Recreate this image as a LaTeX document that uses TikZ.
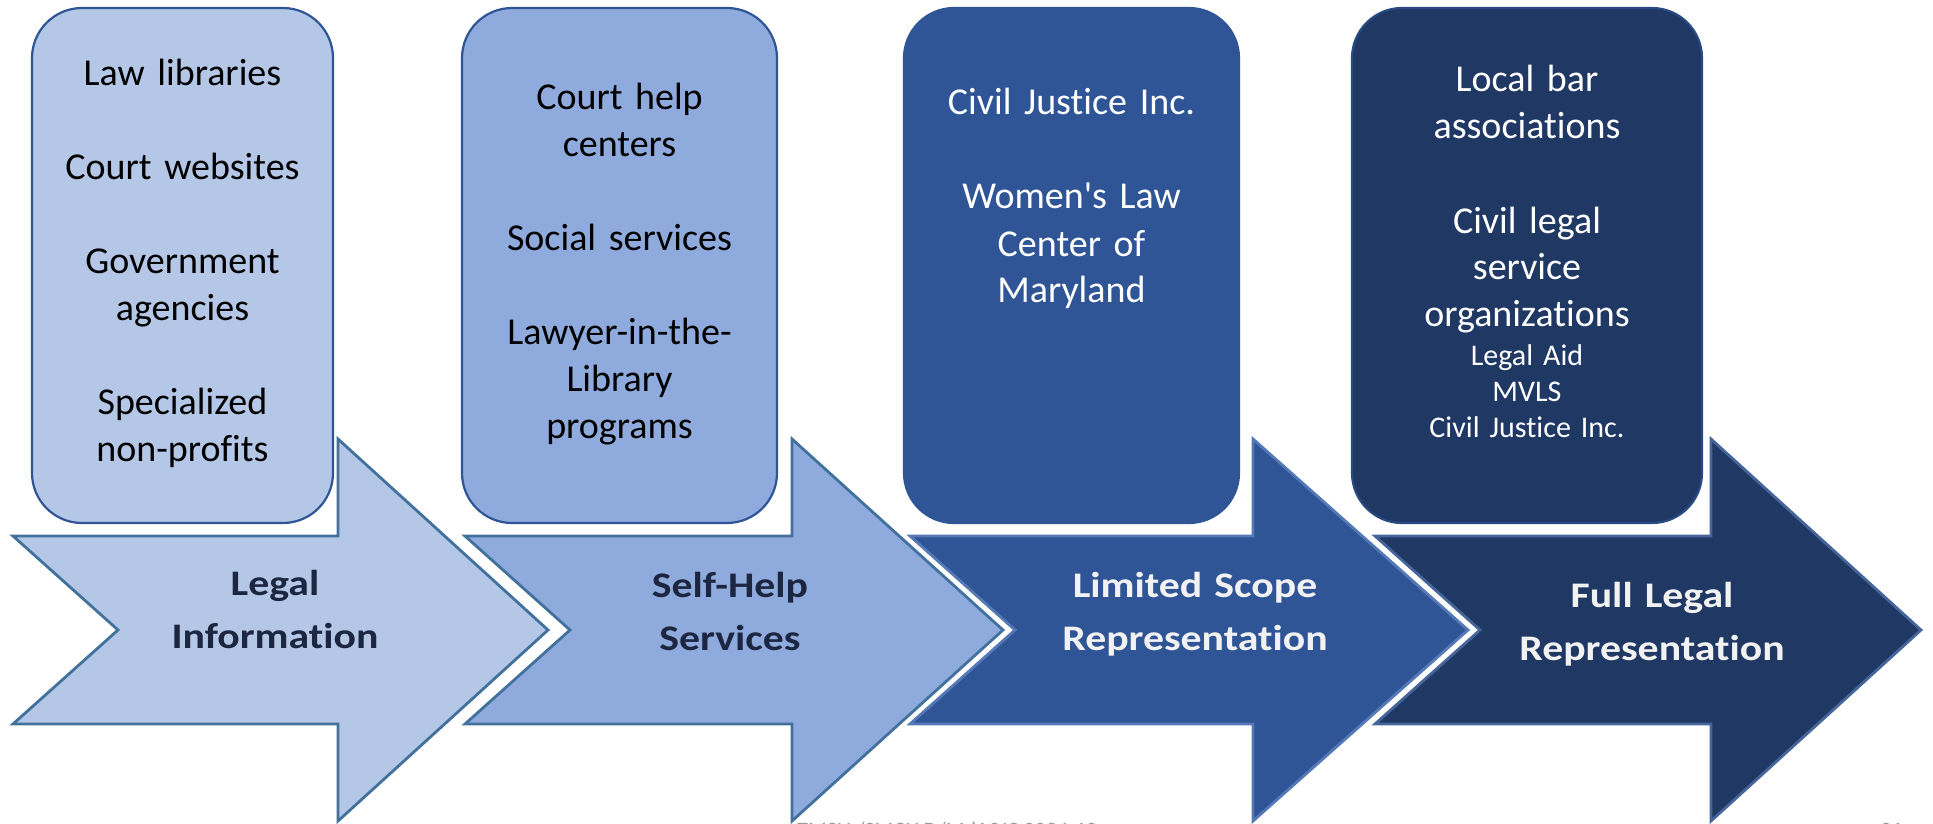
\documentclass[tikz,border=0pt]{standalone}
\usepackage{fontspec}
\setmainfont{Carlito}[Ligatures={TeXOff,NoCommon}]
\newfontfamily\arrowfont{Carlito}[Ligatures={TeXOff,NoCommon}, FakeStretch=1.16]
\definecolor{cA}{HTML}{B4C7E7}
\definecolor{cB}{HTML}{8FAADC}
\definecolor{cC}{HTML}{2F5597}
\definecolor{cD}{HTML}{203864}
\definecolor{boxedge}{HTML}{2F5597}
\definecolor{arredge}{HTML}{41719C}
\definecolor{arredgeC}{HTML}{5479B6}
\definecolor{arredgeD}{HTML}{46659B}
\definecolor{darktext}{HTML}{1C2640}
\definecolor{foot}{HTML}{9A9A9A}
\begin{document}
\begin{tikzpicture}[x=0.5pt,y=-0.5pt,
  panel/.style={rounded corners=25pt, inner sep=0pt, line width=1.1pt},
  paneltext/.style={anchor=base, align=center, text width=170pt, inner sep=0pt,
    font=\fontsize{19}{23.5}\selectfont},
  smalltext/.style={anchor=base, align=center, text width=170pt, inner sep=0pt,
    font=\fontsize{15}{18}\selectfont, text=white},
  arrowlabel/.style={anchor=base, align=center, text width=200pt, inner sep=0pt,
    font=\arrowfont\fontsize{18}{26.5}\selectfont\bfseries},
  arrowshape/.style={line width=1.4pt, line join=miter},
]
\useasboundingbox (0,0) rectangle (1933,824);
\begin{scope}
\clip (0,0) rectangle (1933,824);

% ---- arrows ----
\draw[arrowshape, draw=arredge, fill=cA]
  (13,536) -- (338,536) -- (338,439) -- (548,630) -- (338,821) -- (338,724) -- (13,724) -- (118,630) -- cycle;
\draw[arrowshape, draw=arredge, fill=cB]
  (465,536) -- (792,536) -- (792,439) -- (1003,630) -- (792,821) -- (792,724) -- (465,724) -- (570,630) -- cycle;
\draw[arrowshape, draw=arredgeC, fill=cC]
  (910,536) -- (1253,536) -- (1253,439) -- (1468,630) -- (1253,821) -- (1253,724) -- (910,724) -- (1015,630) -- cycle;
\draw[arrowshape, draw=arredgeD, fill=cD]
  (1375,536) -- (1711,536) -- (1711,439) -- (1921,630) -- (1711,821) -- (1711,724) -- (1375,724) -- (1480,630) -- cycle;

\node[arrowlabel, text=darktext] (l1) at (275,595) {Legal\\Information};
\node[arrowlabel, text=darktext] (l2) at (730,597) {Self-Help\\Services};
\node[arrowlabel, text=white!95!black] (l3) at (1195,597) {Limited Scope\\Representation};
\node[arrowlabel, text=white!95!black] (l4) at (1652,607) {Full Legal\\Representation};

% ---- panels ----
\node[panel, draw=boxedge, fill=cA, minimum width=150.5pt, minimum height=257.5pt] (p1) at (182.5,265.5) {};
\node[panel, draw=boxedge, fill=cB, minimum width=157.5pt, minimum height=257.5pt] (p2) at (619.5,265.5) {};
\node[panel, draw=cC, fill=cC, minimum width=167.5pt, minimum height=257.5pt] (p3) at (1071.5,265.5) {};
\node[panel, draw=cC!60!cD, fill=cD, minimum width=175pt, minimum height=257.5pt] (p4) at (1527,265.5) {};

\node[paneltext] (t1) at (182.5,86) {Law libraries\\[23.5pt]Court websites\\[23.5pt]Government\\agencies\\[23.5pt]Specialized\\non-profits};
\node[paneltext] (t2) at (619.5,110) {Court help\\centers\\[23.5pt]Social services\\[23.5pt]Lawyer-in-the-\\Library\\programs};
\node[paneltext, text=white] (t3) at (1071.5,115) {Civil Justice Inc.\\[23.5pt]Women's Law\\Center of\\Maryland};
\node[paneltext, text=white] (t4) at (1527,92) {Local bar\\associations\\[23.5pt]Civil legal\\service\\organizations};
\node[smalltext] (t4b) at (1527,365) {Legal Aid\\MVLS\\Civil Justice Inc.};

% ---- footer (cut off at the bottom edge, as in the reference) ----
\node[anchor=base west, inner sep=0pt, text=foot, font=\fontsize{11}{13}\selectfont] (foot) at (797,837) {TMSU /SMCLLD/MdA2JC 2024-10};
\node[anchor=base west, inner sep=0pt, text=foot, font=\fontsize{11}{13}\selectfont] (pg) at (1880,837) {21};
\end{scope}
\end{tikzpicture}
\end{document}
